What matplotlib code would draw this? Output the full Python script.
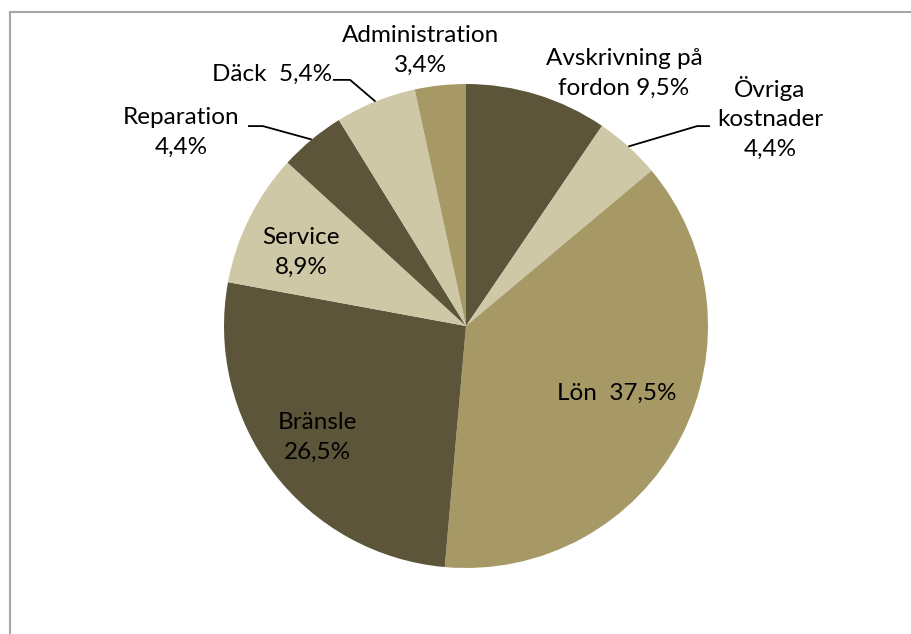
import numpy as np
import matplotlib.pyplot as plt
from matplotlib.lines import Line2D

plt.rcParams['font.family'] = ['Lato', 'DejaVu Sans']

# kostnadsfördelning, medurs från klockan tolv
categories = ['Avskrivning på\nfordon', 'Övriga\nkostnader', 'Lön', 'Bränsle',
              'Service', 'Reparation', 'Däck', 'Administration']
shares = [9.5, 4.4, 37.5, 26.5, 8.9, 4.4, 5.4, 3.4]
# avskiljare mellan namn och procent i varje etikett
separators = [' ', '\n', '  ', '\n', '\n', '\n', '  ', '\n']

DARK = '#5C5539'
MID = '#A69966'
LIGHT = '#CEC8A6'
colors = [DARK, LIGHT, MID, DARK, LIGHT, DARK, LIGHT, MID]

# etikettlägen i pajens dataenheter (radie = 1)
label_pos = [(0.653, 1.045), (1.256, 0.860), (0.624, -0.277), (-0.612, -0.459),
             (-0.682, 0.302), (-1.178, 0.798), (-0.802, 1.041), (-0.186, 1.140)]
# hänvisningslinjer: index -> (knäpunkt, slutpunkt)
leaders = {1: ((0.955, 0.826), (1.008, 0.826)),
           5: ((-0.839, 0.826), (-0.901, 0.826)),
           6: ((-0.479, 1.017), (-0.550, 1.017))}

W, H = 911, 634
cx, cy, r = 466, 308, 242

fig = plt.figure(figsize=(W / 100, H / 100), dpi=100)
ax = fig.add_axes([(cx - r) / W, (cy - r) / H, 2 * r / W, 2 * r / H])

wedges, _ = ax.pie(shares, colors=colors, startangle=90, counterclock=False,
                   radius=1, wedgeprops=dict(linewidth=0))
ax.set_xlim(-1, 1)
ax.set_ylim(-1, 1)
ax.set_aspect('equal')
ax.axis('off')

for cat, val, sep, (x, y) in zip(categories, shares, separators, label_pos):
    pct = f'{val:.1f}%'.replace('.', ',')
    ax.text(x, y, cat + sep + pct, ha='center', va='center', fontsize=17.5,
            color='black', linespacing=1.52, clip_on=False)

for i, (elbow, end) in leaders.items():
    w = wedges[i]
    ang = np.deg2rad((w.theta1 + w.theta2) / 2)
    edge = (np.cos(ang), np.sin(ang))
    ax.plot([edge[0], elbow[0], end[0]], [edge[1], elbow[1], end[1]],
            color='black', lw=1.3, clip_on=False, solid_capstyle='butt')

# ram runt diagramytan
fig.add_artist(Line2D([9.5 / W, 9.5 / W], [0, 1 - 11.5 / H], color='#A6A6A6', lw=1.5))
fig.add_artist(Line2D([9.5 / W, 1], [1 - 11.5 / H, 1 - 11.5 / H], color='#A6A6A6', lw=1.5))

fig.savefig('out.png', dpi=100)
